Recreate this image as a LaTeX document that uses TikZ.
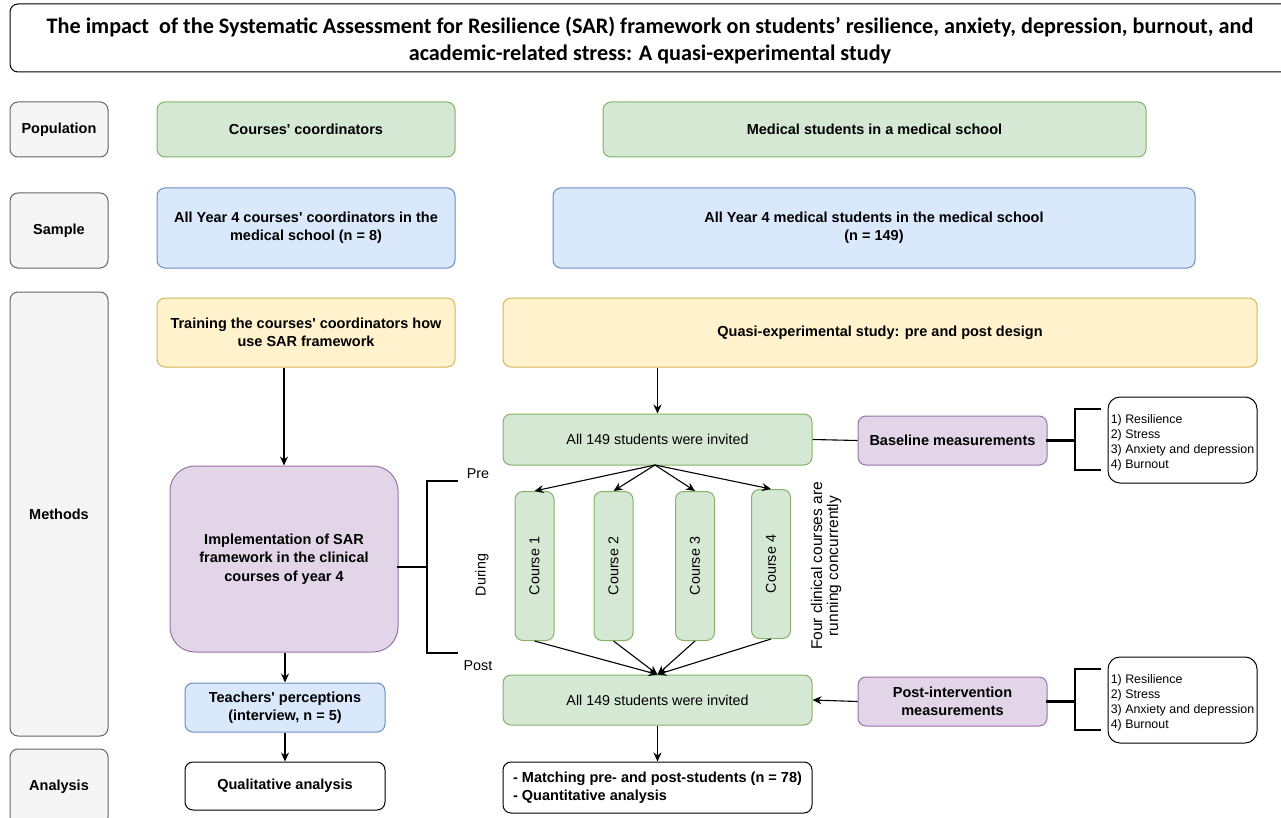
\documentclass[tikz,border=0pt]{standalone}
\usepackage{fontspec}
\setmainfont{Liberation Sans}[Ligatures=TeXOff]
\newfontfamily\titlefont{Carlito}
\usetikzlibrary{arrows.meta,calc}
\definecolor{gfill}{HTML}{D5E8D4}\definecolor{gline}{HTML}{82B366}
\definecolor{bfill}{HTML}{DAE8FC}\definecolor{bline}{HTML}{6C8EBF}
\definecolor{yfill}{HTML}{FFF2CC}\definecolor{yline}{HTML}{D6B656}
\definecolor{pfill}{HTML}{E1D5E7}\definecolor{pline}{HTML}{9673A6}
\definecolor{kfill}{HTML}{F5F5F5}\definecolor{kline}{HTML}{666666}
\newcommand\bftext{\fontsize{14.5}{18.5}\selectfont\bfseries}
\newcommand\rgtext{\fontsize{14.3}{17}\selectfont}
\newcommand\lsttext{\fontsize{12.4}{15}\selectfont}
\tikzset{
  box/.style={draw, rounded corners=8pt, line width=1pt, align=center, inner sep=2pt, font=\bftext},
  sz/.style 2 args={minimum width=#1pt, minimum height=#2pt},
  gbox/.style={box, fill=gfill, draw=gline},
  bbox/.style={box, fill=bfill, draw=bline},
  ybox/.style={box, fill=yfill, draw=yline},
  pbox/.style={box, fill=pfill, draw=pline},
  kbox/.style={box, fill=kfill, draw=kline},
  wbox/.style={box, fill=white, draw=black},
  lstbox/.style={draw=black, fill=white, rounded corners=12pt, line width=1pt},
  lsttxt/.style={align=left, inner sep=0pt, font=\lsttext},
  arr/.style={line width=1.1pt, -{Stealth[length=9pt,width=8pt,inset=3pt]}},
  ln/.style={line width=1.1pt},
  brk/.style={line width=2.5pt, line cap=rect},
  lbl/.style={font=\rgtext, inner sep=0pt},
}
\begin{document}
\begin{tikzpicture}[x=1pt,y=-1pt]
\useasboundingbox (0,0) rectangle (1281,818);
% title
\node[wbox, sz={1280}{68}] (title) at (650,38) {};
\node[align=center, inner sep=0pt, font={\titlefont\fontsize{22.2}{27}\selectfont\bfseries}] (titlet) at ([yshift=-3pt]title.center)
 {The impact\ \ of the Systematic Assessment for Resilience (SAR) framework on students’ resilience, anxiety, depression, burnout, and\\academic-related stress: A quasi-experimental study};
% left column
\node[kbox, sz={98}{55}] (pop) at (59,129.5) {Population};
\node[kbox, sz={98}{75}] (samp) at (59,230.5) {Sample};
\node[kbox, sz={98}{444}] (meth) at (59,514) {Methods};
\node[kbox, sz={98}{76}] (anal) at (59,787) {Analysis};
% population / sample
\node[gbox, sz={298}{55}] (cc) at (306,129.5) {Courses' coordinators};
\node[gbox, sz={543}{55}] (ms) at (874.5,129.5) {Medical students in a medical school};
\node[bbox, sz={298}{80}] (ayc) at (306,228) {All Year 4 courses' coordinators in the\\medical school (n = 8)};
\node[bbox, sz={642}{80}] (ayms) at (874,228) {All Year 4 medical students in the medical school\\(n = 149)};
% methods
\node[ybox, sz={298}{69}] (train) at (306,332.5) {Training the courses' coordinators how\\use SAR framework};
\node[ybox, sz={754}{69}] (quasi) at (880,332.5) {Quasi-experimental study: pre and post design};
\node[pbox, sz={228}{186}, rounded corners=25pt] (impl) at (284,559) {Implementation of SAR\\framework in the clinical\\courses of year 4};
\node[bbox, sz={200}{49}] (teach) at (285,707.5) {Teachers' perceptions\\(interview, n = 5)};
\node[wbox, sz={200}{48}] (qual) at (285,786) {Qualitative analysis};
\node[gbox, sz={309}{51}, font=\rgtext] (inv1) at (657.5,439.5) {All 149 students were invited};
\node[pbox, sz={189}{49}] (base) at (952.5,440.5) {Baseline measurements};
\node[lstbox, sz={149}{86}] (list1) at (1182.5,440) {};
\node[lsttxt] (list1t) at ([yshift=-3pt]list1.center) {1) Resilience\\2) Stress\\3) Anxiety and depression\\4) Burnout};
\node[gbox, sz={39}{149}] (c1) at (534.5,566) {};
\node[gbox, sz={39}{149}] (c2) at (613.5,566) {};
\node[gbox, sz={39}{149}] (c3) at (695,566) {};
\node[gbox, sz={39}{149}] (c4) at (771,564) {};
\node[lbl, rotate=90] (c1t) at (c1) {Course 1};
\node[lbl, rotate=90] (c2t) at (c2) {Course 2};
\node[lbl, rotate=90] (c3t) at (c3) {Course 3};
\node[lbl, rotate=90] (c4t) at (c4) {Course 4};
\node[lbl, rotate=90, align=center, font=\fontsize{15.5}{16}\selectfont] (four) at (826,566) {Four clinical courses are\\running concurrently};
\node[gbox, sz={309}{50}, font=\rgtext] (inv2) at (657.5,700) {All 149 students were invited};
\node[pbox, sz={189}{49}] (post) at (952.5,701.5) {Post-intervention\\measurements};
\node[lstbox, sz={149}{86}] (list2) at (1182.5,700) {};
\node[lsttxt] (list2t) at ([yshift=-3pt]list2.center) {1) Resilience\\2) Stress\\3) Anxiety and depression\\4) Burnout};
\node[wbox, sz={309}{51}, align=left] (final) at (657.5,787.5) {- Matching pre- and post-students (n = 78)\\- Quantitative analysis};
% Pre / During / Post
\node[lbl] (pre) at (478,474) {Pre};
\node[lbl, rotate=90] (during) at (482,575) {During};
\node[lbl] (postl) at (478,666) {Post};
% arrows left column
\draw[arr] (train.south -| impl.north) -- (impl.north);
\draw[arr] (impl.south -| teach.north) -- (teach.north);
\draw[arr] (teach.south) -- (qual.north);
% arrows right
\draw[arr] (quasi.south -| inv1.north) -- (inv1.north);
\coordinate (split) at (655,465);
\draw[arr] (split) -- (c1.north);
\draw[arr] (split) -- (c2.north);
\draw[arr] (split) -- (c3.north);
\draw[arr] (split) -- (c4.north);
\draw[arr] (c1.south) -- (inv2.north);
\draw[arr] (c2.south) -- (inv2.north);
\draw[arr] (c3.south) -- (inv2.north);
\draw[arr] (c4.south) -- (inv2.north);
\draw[ln] (inv1.east) -- (base.west);
\draw[arr] (post.west) -- (inv2.east);
\draw[arr] (inv2.south) -- (final.north);
% brackets
\coordinate (bk) at (427,567);
\draw[brk] (impl.east |- bk) -- (bk);
\draw[brk] (457,481) -- (427,481) -- (427,653) -- (457,653);
\coordinate (bk1) at (1075,440.5);
\draw[brk] (base.east) -- (bk1);
\draw[brk] (1100,409) -- (1075,409) -- (1075,470) -- (1100,470);
\coordinate (bk2) at (1075,701.5);
\draw[brk] (post.east) -- (bk2);
\draw[brk] (1100,669) -- (1075,669) -- (1075,730) -- (1100,730);
\end{tikzpicture}
\end{document}
